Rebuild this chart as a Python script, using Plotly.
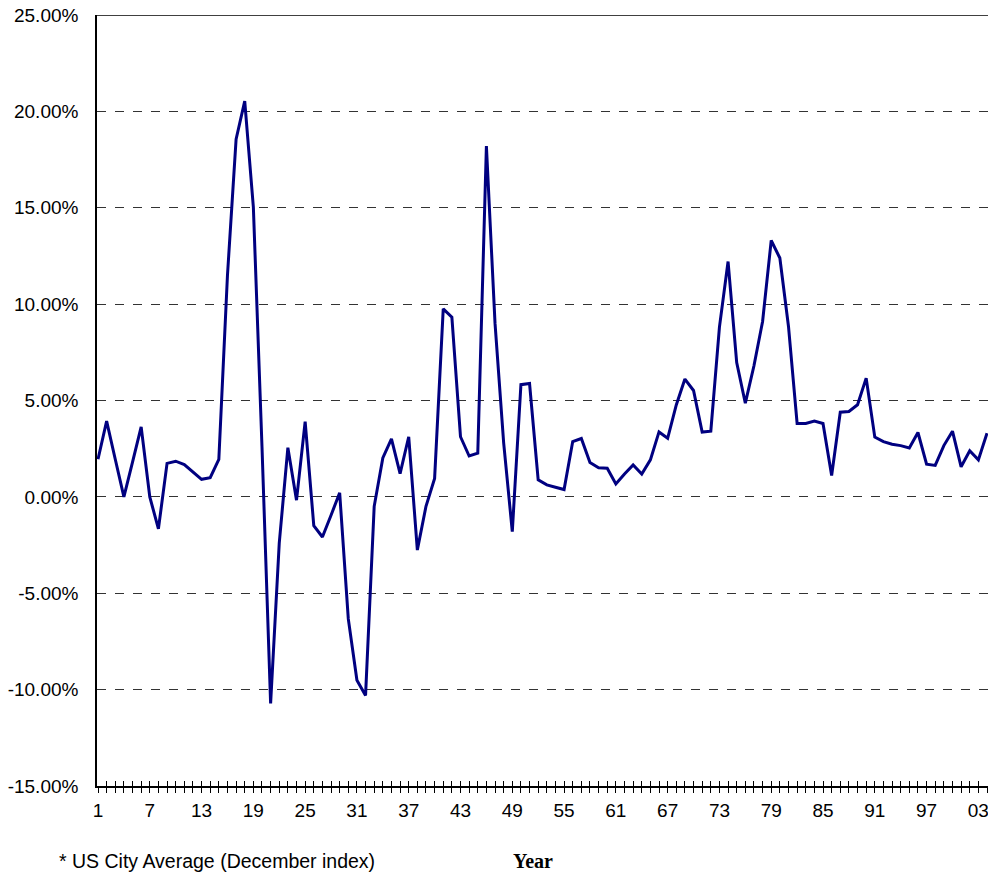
import plotly.graph_objects as go

years = list(range(1, 105))
inflation = [
    1.95, 3.93, 1.95, 0.0, 1.8, 3.63, 0.0, -1.66, 1.74, 1.85,
    1.68, 1.27, 0.91, 1.0, 1.95, 11.5, 18.56, 20.53, 15.03, 2.6,
    -10.72, -2.4, 2.55, -0.17, 3.9, -1.49, -2.08, -0.95, 0.21, -6.33,
    -9.51, -10.3, -0.49, 2.02, 3.01, 1.21, 3.12, -2.76, -0.49, 0.96,
    9.75, 9.32, 3.12, 2.12, 2.27, 18.2, 9.0, 2.8, -1.8, 5.82,
    5.88, 0.88, 0.62, 0.50, 0.38, 2.87, 3.03, 1.78, 1.51, 1.49,
    0.67, 1.19, 1.66, 1.19, 1.92, 3.37, 3.04, 4.77, 6.11, 5.52,
    3.36, 3.41, 8.81, 12.21, 6.97, 4.86, 6.8, 9.1, 13.3, 12.39,
    8.84, 3.81, 3.81, 3.93, 3.81, 1.11, 4.39, 4.43, 4.78, 6.16,
    3.10, 2.87, 2.73, 2.66, 2.54, 3.34, 1.70, 1.63, 2.66, 3.41,
    1.56, 2.39, 1.92, 3.30,
]
label_years = list(range(1, 105, 6))
label_text = ["1", "7", "13", "19", "25", "31", "37", "43", "49", "55",
              "61", "67", "73", "79", "85", "91", "97", "03"]
y_ticks = [-15, -10, -5, 0, 5, 10, 15, 20, 25]
y_text = ["%.2f%%" % v for v in y_ticks]

font = "Liberation Sans, Arial, sans-serif"

fig = go.Figure()
fig.add_trace(go.Scatter(
    x=years, y=inflation, mode="lines",
    line=dict(color="#000080", width=3),
    showlegend=False, hoverinfo="skip",
))
# invisible trace to enable second x axis (inside ticks)
fig.add_trace(go.Scatter(x=[years[0]], y=[inflation[0]], xaxis="x2",
                         mode="markers", marker=dict(opacity=0),
                         showlegend=False, hoverinfo="skip"))

pw = 891.0
d = 1 / ((pw - 2) / 103)
xr = [1 - d, 104 + d]
tick_text_all = [label_text[label_years.index(y)] if y in label_years else "" for y in years]

fig.update_layout(
    width=988, height=875,
    margin=dict(l=97, r=0, t=15, b=89, autoexpand=False),
    paper_bgcolor="white", plot_bgcolor="white",
    font=dict(family=font, size=19, color="black"),
    xaxis=dict(
        range=xr, tickmode="array", tickvals=years, ticktext=tick_text_all,
        ticks="outside", ticklen=5, tickwidth=1, tickcolor="black",
        showline=True, linecolor="black", linewidth=1.5,
        showgrid=False, zeroline=False, ticklabelstandoff=1,
        tickfont=dict(size=19), automargin=False, ticklabeloverflow="allow",
    ),
    xaxis2=dict(
        range=xr, overlaying="x", side="bottom", tickmode="array",
        tickvals=years, ticks="inside", ticklen=5, tickwidth=1,
        tickcolor="black", showticklabels=False, showgrid=False,
        zeroline=False, showline=False, automargin=False,
    ),
    yaxis=dict(
        range=[-15, 25], tickmode="array", tickvals=y_ticks, ticktext=y_text,
        showline=True, linecolor="black", linewidth=1.5,
        showgrid=True, gridcolor="#333333", gridwidth=1, griddash="dash",
        zeroline=False, ticks="", ticklabelstandoff=13,
        tickfont=dict(size=19), automargin=False, ticklabeloverflow="allow",
    ),
    shapes=[dict(type="line", xref="paper", yref="y", x0=0, x1=1, y0=25, y1=25,
                 line=dict(color="black", width=1.5))],
    annotations=[
        dict(text="* US City Average (December index)", xref="paper", yref="paper",
             x=(57 - 97) / pw, y=-(861 - 786) / 771, xanchor="left", yanchor="middle",
             showarrow=False, font=dict(family=font, size=19.5)),
        dict(text="<b>Year</b>", xref="paper", yref="paper",
             x=(533 - 97) / pw, y=-(861 - 786) / 771, xanchor="center", yanchor="middle",
             showarrow=False, font=dict(family="Liberation Serif, Times New Roman, serif", size=20)),
    ],
)

fig.write_html("out.html", config={"displayModeBar": False},
               post_script="document.body.style.margin='0';")
